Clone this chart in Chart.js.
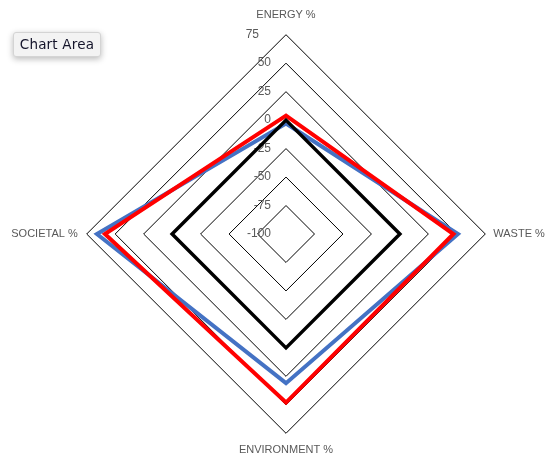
<!DOCTYPE html>
<html><head><meta charset="utf-8">
<script src="https://cdn.jsdelivr.net/npm/chart.js@4/dist/chart.umd.min.js"></script>
<style>
html,body{margin:0;padding:0;background:#fff;overflow:hidden;}
#wrap{position:relative;width:549px;height:459px;overflow:hidden;}
#c{position:absolute;left:-40px;top:0;}
#tip{position:absolute;left:13px;top:32px;width:88px;height:25px;box-sizing:border-box;background:#f3f3f3;border:1px solid #d4d4d4;border-radius:3px;box-shadow:0 2px 6px rgba(0,0,0,0.28);font:13.5px 'DejaVu Sans',sans-serif;letter-spacing:0.2px;color:#14142a;line-height:23px;text-align:center;}
</style></head>
<body><div id="wrap"><canvas id="c" width="640" height="459"></canvas><div id="tip">Chart Area</div></div>
<script>
const categories = ['ENERGY %', 'WASTE %', 'ENVIRONMENT %', 'SOCIETAL %'];
const baselineValues = [0, 0, 0, 0];
const blueValues = [-3, 51, 31, 66];
const redValues = [4, 47, 48, 59];
const tickLabels = ['-100', '-75', '-50', '-25', '0', '25', '50', '75'];

const sideTicks = {
  id: 'sideTicks',
  beforeDatasetsDraw(chart) {
    const s = chart.scales.r;
    const ctx = chart.ctx;
    ctx.save();
    ctx.font = '12px "Liberation Sans"';
    ctx.fillStyle = '#595959';
    ctx.textAlign = 'right';
    ctx.textBaseline = 'middle';
    const n = s.ticks.length;
    s.ticks.forEach((t, i) => {
      const d = s.getDistanceFromCenterForValue(t.value);
      const x = s.xCenter - 15 - (i === n - 1 ? 12 : 0);
      ctx.fillText(t.label, x, s.yCenter - d);
    });
    ctx.restore();
  }
};

new Chart(document.getElementById('c'), {
  type: 'radar',
  data: {
    labels: categories,
    datasets: [
      { label: 'Baseline', data: baselineValues, borderColor: '#000000', borderWidth: 3.5, fill: false, pointRadius: 0, borderJoinStyle: 'miter' },
      { label: 'Series 3', data: redValues, borderColor: '#FF0000', borderWidth: 4, fill: false, pointRadius: 0, borderJoinStyle: 'miter' },
      { label: 'Series 2', data: blueValues, borderColor: '#4472C4', borderWidth: 4, fill: false, pointRadius: 0, borderJoinStyle: 'miter' }
    ]
  },
  options: {
    responsive: false,
    animation: false,
    devicePixelRatio: 1,
    layout: { padding: { top: 7, bottom: 0, left: 12, right: 0 } },
    plugins: { legend: { display: false }, tooltip: { enabled: false } },
    elements: { line: { tension: 0 } },
    scales: {
      r: {
        min: -100, max: 75,
        ticks: { stepSize: 25, display: false, callback: (v, i) => tickLabels[i] },
        grid: { color: '#000000', lineWidth: 1 },
        angleLines: { display: false },
        pointLabels: {
          font: { family: 'Liberation Sans', size: 11 },
          color: '#595959',
          padding: (ctx) => [13.5, 8, 10, 9][ctx.index]
        }
      }
    }
  },
  plugins: [sideTicks]
});
</script>
</body></html>
